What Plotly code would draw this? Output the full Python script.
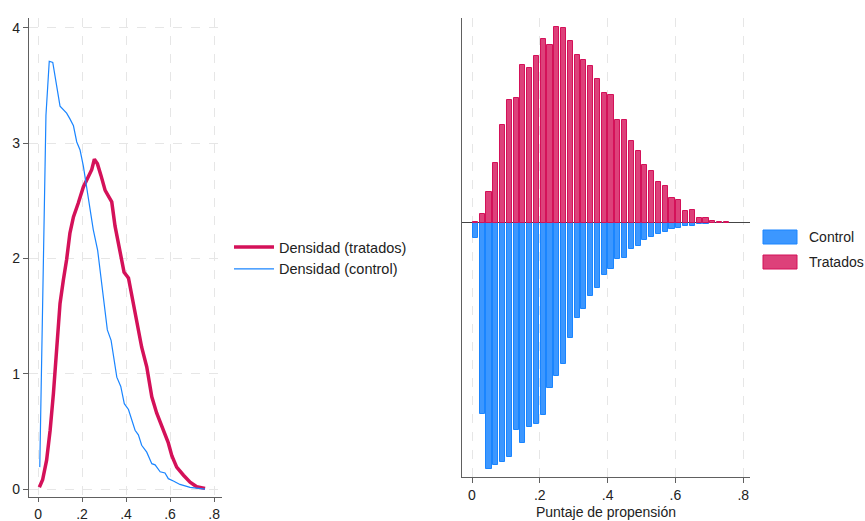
import plotly.graph_objects as go

# ---------- data ----------
# Kernel densities (left panel)
ctrl_kde_x = [0.008, 0.036, 0.051, 0.067, 0.10, 0.130, 0.145, 0.161, 0.176, 0.191, 0.206, 0.221, 0.236,
              0.251, 0.271, 0.282, 0.297, 0.315, 0.332, 0.358, 0.376, 0.392, 0.411, 0.441, 0.456, 0.471,
              0.494, 0.517, 0.532, 0.555, 0.577, 0.592, 0.615, 0.645, 0.691, 0.736, 0.759]
ctrl_kde_y = [0.19, 3.24, 3.71, 3.70, 3.32, 3.26, 3.21, 3.15, 3.01, 2.94, 2.80, 2.62, 2.42,
              2.25, 2.07, 1.90, 1.64, 1.38, 1.29, 0.97, 0.89, 0.74, 0.69, 0.51, 0.47, 0.38,
              0.32, 0.22, 0.21, 0.15, 0.14, 0.09, 0.07, 0.04, 0.015, 0.003, 0.0]
trt_kde_x = [0.006, 0.021, 0.039, 0.055, 0.070, 0.085, 0.100, 0.115, 0.130, 0.145, 0.161, 0.183, 0.206,
             0.229, 0.244, 0.256, 0.270, 0.286, 0.305, 0.320, 0.335, 0.350, 0.365, 0.380, 0.391, 0.411,
             0.433, 0.456, 0.471, 0.494, 0.517, 0.539, 0.570, 0.592, 0.608, 0.630, 0.661, 0.691, 0.721, 0.759]
trt_kde_y = [0.015, 0.08, 0.25, 0.51, 0.83, 1.26, 1.61, 1.81, 1.99, 2.22, 2.36, 2.48, 2.62,
             2.71, 2.77, 2.86, 2.82, 2.72, 2.59, 2.54, 2.49, 2.28, 2.13, 2.00, 1.88, 1.83,
             1.61, 1.41, 1.23, 1.06, 0.80, 0.66, 0.51, 0.40, 0.29, 0.19, 0.12, 0.06, 0.02, 0.006]

# Histograms (right panel), bin width 0.02 starting at 0
bin_width = 0.02
ctrl_hist = [0.24, 2.88, 3.70, 3.64, 3.60, 3.53, 3.12, 3.31, 3.08, 3.03, 2.90, 2.49, 2.31, 2.13,
             1.74, 1.43, 1.30, 1.11, 0.99, 0.79, 0.70, 0.55, 0.54, 0.40, 0.36, 0.27, 0.22, 0.18,
             0.15, 0.10, 0.09, 0.06, 0.06, 0.03, 0.03, 0.015, 0.008]
trt_hist = [0.01, 0.13, 0.46, 0.89, 1.47, 1.84, 1.87, 2.37, 2.33, 2.50, 2.76, 2.67, 2.94, 2.92,
            2.73, 2.52, 2.45, 2.35, 2.16, 1.95, 1.91, 1.54, 1.54, 1.22, 1.08, 0.86, 0.77, 0.61,
            0.55, 0.37, 0.34, 0.17, 0.19, 0.07, 0.07, 0.02, 0.01, 0.003]

tick_vals = [0, 0.2, 0.4, 0.6, 0.8]
tick_text = ["0", ".2", ".4", ".6", ".8"]
y_tick_vals = [0, 1, 2, 3, 4]

BLUE = "#1A85FF"
RED = "#D41159"
FONT = "Liberation Sans, Arial, sans-serif"

# body margin is removed (post_script), figure fills the 865x521 window
W, H = 865, 521


def px(xp):
    return xp / W


def py(yp):
    return 1 - yp / H


fig = go.Figure()

# Left: densities
fig.add_trace(go.Scatter(x=trt_kde_x, y=trt_kde_y, mode="lines", name="Densidad (tratados)",
                         line=dict(color=RED, width=3.5), xaxis="x", yaxis="y"))
fig.add_trace(go.Scatter(x=ctrl_kde_x, y=ctrl_kde_y, mode="lines", name="Densidad (control)",
                         line=dict(color=BLUE, width=1.2), xaxis="x", yaxis="y"))

# Right: mirrored histograms
ctrl_x = [bin_width * (i + 0.5) for i in range(len(ctrl_hist))]
trt_x = [bin_width * (i + 0.5) for i in range(len(trt_hist))]
BAR_W = 0.0152
fig.add_trace(go.Bar(x=ctrl_x, y=[-v for v in ctrl_hist], width=BAR_W, name="Control",
                     marker=dict(color="rgba(26,133,255,0.85)", line=dict(color=BLUE, width=1)),
                     xaxis="x2", yaxis="y2", showlegend=False))
fig.add_trace(go.Bar(x=trt_x, y=trt_hist, width=BAR_W, name="Tratados",
                     marker=dict(color="rgba(212,17,89,0.8)", line=dict(color=RED, width=1)),
                     xaxis="x2", yaxis="y2", showlegend=False))

axis_line = "#606060"
grid = "#e6e6e6"
TICKFONT = dict(size=14, color="#222")

fig.update_layout(
    width=W, height=H,
    margin=dict(l=0, r=0, t=0, b=0),
    paper_bgcolor="white", plot_bgcolor="white",
    font=dict(family=FONT, size=14, color="#222"),
    barmode="overlay", bargap=0,
    xaxis=dict(domain=[px(29), px(222)], range=[-0.041, 0.836], tickvals=tick_vals, ticktext=tick_text,
               showline=True, linecolor=axis_line, linewidth=1.3, ticks="outside", ticklen=4,
               tickcolor=axis_line, showgrid=True, gridcolor=grid, griddash="dash", gridwidth=1,
               zeroline=False, anchor="y", tickfont=TICKFONT, automargin=False),
    yaxis=dict(domain=[py(497), py(18)], range=[-0.069, 4.085], tickvals=y_tick_vals,
               showline=True, linecolor=axis_line, linewidth=1.3, ticks="outside", ticklen=5,
               tickcolor=axis_line, showgrid=True, gridcolor=grid, griddash="dash", gridwidth=1,
               zeroline=False, anchor="x", tickfont=TICKFONT, automargin=False),
    xaxis2=dict(domain=[px(462), px(750)], range=[-0.0295, 0.82], tickvals=tick_vals, ticktext=tick_text,
                showline=True, linecolor=axis_line, linewidth=1.3, ticks="outside", ticklen=5,
                tickcolor=axis_line, showgrid=True, gridcolor=grid, griddash="dash", gridwidth=1,
                zeroline=False, anchor="y2", tickfont=TICKFONT, automargin=False,
                title=dict(text="Puntaje de propensión", standoff=5, font=dict(size=14))),
    yaxis2=dict(domain=[py(477), py(18)], range=[-3.827, 3.075], showticklabels=False,
                showline=True, linecolor=axis_line, linewidth=1.3, ticks="", showgrid=False,
                zeroline=True, zerolinecolor="#444", zerolinewidth=1.3, anchor="x2", automargin=False),
    legend=dict(x=px(229), y=py(258), xanchor="left", yanchor="middle",
                bgcolor="rgba(0,0,0,0)", font=dict(size=14.5), tracegroupgap=0, itemwidth=40),
)

# Right legend (boxes + text)
leg_items = [("Control", "rgba(26,133,255,0.85)", BLUE, 237), ("Tratados", "rgba(212,17,89,0.8)", RED, 262)]
for label, fill, edge, yc in leg_items:
    fig.add_shape(type="rect", xref="paper", yref="paper",
                  x0=px(763), x1=px(797), y0=py(yc + 7), y1=py(yc - 7),
                  fillcolor=fill, line=dict(color=edge, width=1))
    fig.add_annotation(text=label, xref="paper", yref="paper", x=px(808), y=py(yc),
                       xanchor="left", yanchor="middle", showarrow=False, borderpad=0,
                       font=dict(size=14, color="#222"))

fig.write_html("out.html", config={"displayModeBar": False},
               post_script="document.body.style.margin='0';document.body.style.overflow='hidden';")
